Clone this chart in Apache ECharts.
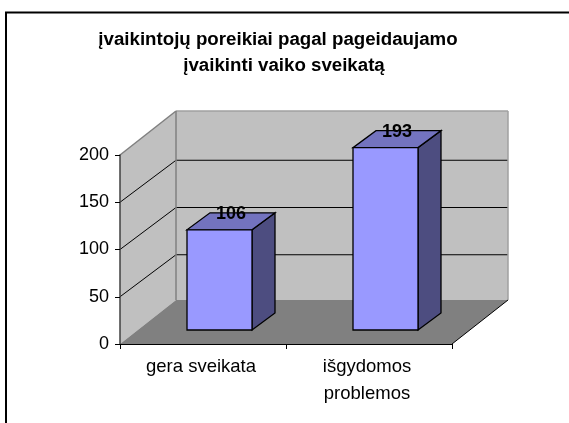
<!DOCTYPE html>
<html>
<head>
<meta charset="utf-8">
<style>html,body{margin:0;padding:0;background:#fff;overflow:hidden}#c{width:569px;height:423px}</style>
<script src="https://cdn.jsdelivr.net/npm/echarts@6/dist/echarts.min.js"></script>
</head>
<body>
<div id="c"></div>
<script>
const titleLines = ['įvaikintojų poreikiai pagal pageidaujamo', 'įvaikinti vaiko sveikatą'];
const categories = ['gera sveikata', 'išgydomos\nproblemos'];
const values = [106, 193];
const yTicks = [0, 50, 100, 150, 200];

const wallDX = 56, wallDY = -44, gridDY = -42;
const barFrontDX = 16.5, barFrontDY = -14, barDepthDX = 23, barDepthDY = -17, barFrac = 65 / 166;

function poly(points, fill, stroke, lw) {
  return { type: 'polygon', shape: { points }, style: { fill: fill, stroke: stroke || 'none', lineWidth: lw || 0 } };
}
function seg(a, b, color, lw) {
  return { type: 'line', shape: { x1: a[0], y1: a[1], x2: b[0], y2: b[1] }, style: { stroke: color, lineWidth: lw || 1 } };
}
function renderWalls(params, api) {
  const w = api.size([1, 0])[0];
  const c = api.coord([0, 0]);
  const xL = c[0] - w / 2, xR = xL + 2 * w, y0 = c[1], y1 = api.coord([0, yTicks[yTicks.length - 1]])[1];
  const back = (p) => [p[0] + wallDX, p[1] + wallDY];
  const fl = [xL, y0], fr = [xR, y0], tl = [xL, y1], tr = [xR, y1];
  const kids = [
    poly([fl, tl, back(tl), back(fl)], '#C0C0C0'),
    poly([back(fl), back(tl), back(tr), back(fr)], '#C0C0C0'),
    poly([fl, fr, back(fr), back(fl)], '#808080')
  ];
  yTicks.slice(1, -1).forEach((t) => {
    const y = api.coord([0, t])[1];
    const by = y + gridDY;
    kids.push(seg([xL, y], [xL + wallDX, by], '#000'));
    kids.push(seg([xL + wallDX, by], [xR + wallDX, by], '#000'));
  });
  kids.push(seg(tl, back(tl), '#808080', 1.5));
  kids.push(seg(back(tl), back(tr), '#A0A0A0', 1.5));
  kids.push(seg(back(tr), back(fr), '#A0A0A0', 1.5));
  kids.push(seg(back(tl), back(fl), '#808080', 1.5));
  kids.push(seg(fr, back(fr), '#000'));
  return { type: 'group', children: kids };
}
function renderBar(params, api) {
  const idx = api.value(0), v = api.value(1);
  const w = api.size([1, 0])[0] * barFrac;
  const base = api.coord([idx, 0]), top = api.coord([idx, v]);
  const x0 = base[0] + barFrontDX - w / 2, x1 = x0 + w;
  const yB = base[1] + barFrontDY, yT = top[1] + barFrontDY;
  const dx = barDepthDX, dy = barDepthDY;
  const S = '#000';
  return { type: 'group', children: [
    poly([[x1, yB], [x1, yT], [x1 + dx, yT + dy], [x1 + dx, yB + dy]], '#4D4D80', S, 1.3),
    poly([[x0, yT], [x1, yT], [x1 + dx, yT + dy], [x0 + dx, yT + dy]], '#7373BF', S, 1.3),
    poly([[x0, yB], [x1, yB], [x1, yT], [x0, yT]], '#9999FF', S, 1.3),
    { type: 'text', x: (x0 + x1 + dx) / 2, y: yT + dy + 1, style: {
      text: String(v), fill: '#000', font: 'bold 18px "Liberation Sans", Arial, sans-serif', align: 'center', verticalAlign: 'middle' } }
  ] };
}
const chart = echarts.init(document.getElementById('c'), null, { renderer: 'canvas' });
chart.setOption({
  animation: false,
  backgroundColor: '#fff',
  textStyle: { fontFamily: '"Liberation Sans", Arial, sans-serif' },
  title: [
    { text: titleLines[0], left: 273, top: 25, textAlign: 'center', textStyle: { fontSize: 18.7, fontWeight: 'bold', color: '#000', fontFamily: '"Liberation Sans"' } },
    { text: titleLines[1], left: 279, top: 51, textAlign: 'center', textStyle: { fontSize: 18.7, fontWeight: 'bold', color: '#000', fontFamily: '"Liberation Sans"' } }
  ],
  graphic: [{ type: 'rect', silent: true, z: -10, shape: { x: 6, y: 12.5, width: 600, height: 500 }, style: { fill: 'none', stroke: '#000', lineWidth: 2 } }],
  grid: { left: 120, right: 117, top: 155, bottom: 79 },
  xAxis: {
    type: 'category', data: categories, z: 5,
    axisLine: { lineStyle: { color: '#000', width: 1 } },
    axisTick: { show: true, alignWithLabel: false, length: 5, lineStyle: { color: '#000' } },
    axisLabel: { color: '#000', fontSize: 18.5, margin: 9, lineHeight: 27, padding: [0, 4, 0, 0], fontFamily: '"Liberation Sans"' },
    splitLine: { show: false }
  },
  yAxis: {
    type: 'value', min: 0, max: 200, interval: 50, z: 5,
    axisLine: { show: true, lineStyle: { color: '#404040', width: 1.5 } },
    axisTick: { show: true, length: 5, lineStyle: { color: '#000' } },
    axisLabel: { color: '#000', fontSize: 18, margin: 11, fontFamily: '"Liberation Sans"' },
    splitLine: { show: false }
  },
  series: [
    { type: 'custom', z: 1, silent: true, renderItem: renderWalls, data: [[0, 0]], encode: { x: 0, y: 1 } },
    { type: 'custom', z: 3, silent: true, renderItem: renderBar, data: values.map((v, i) => [i, v]), encode: { x: 0, y: 1 } }
  ]
});
</script>
</body>
</html>
